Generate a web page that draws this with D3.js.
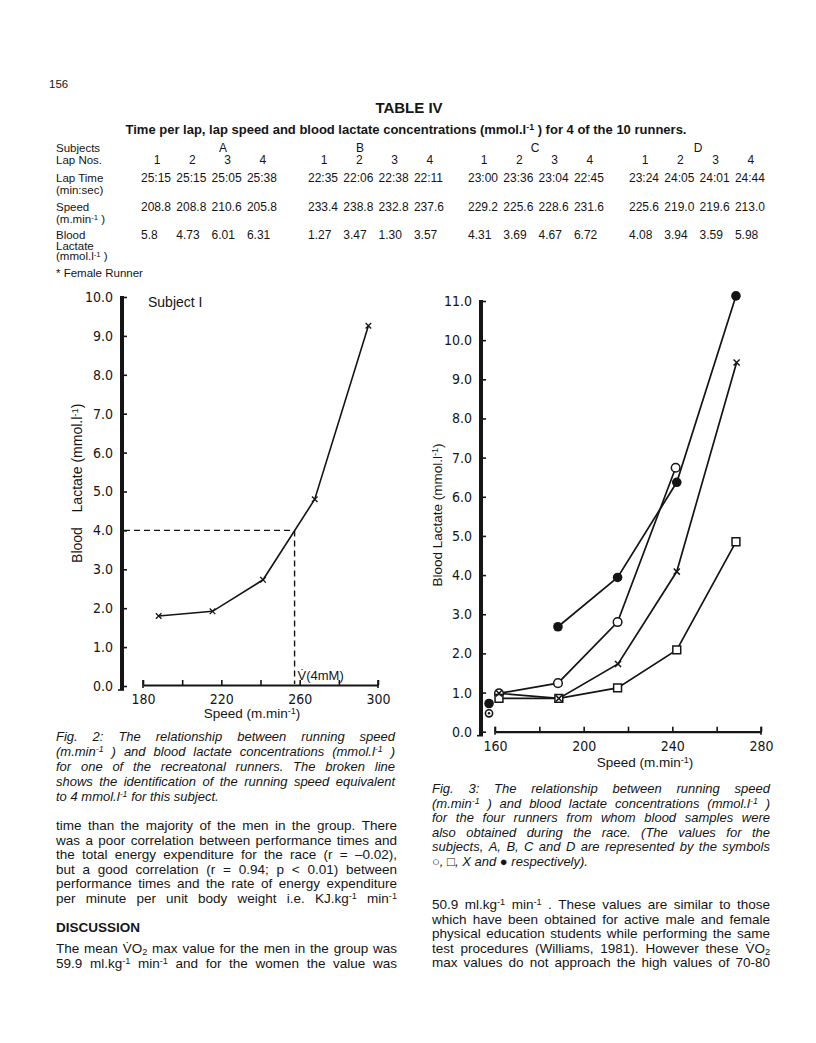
<!DOCTYPE html>
<html><head><meta charset="utf-8">
<script src="https://cdn.jsdelivr.net/npm/d3@7"></script>
<style>body{margin:0;background:#fff}svg{display:block}</style>
</head><body>
<svg id="page" width="816" height="1043"></svg>
<script>
// ---------------- DATA ----------------
const tableSubjects = ["A", "B", "C", "D"];
const lapNumbers = [1, 2, 3, 4];
const lapTimes = [
  ["25:15", "25:15", "25:05", "25:38"],
  ["22:35", "22:06", "22:38", "22:11"],
  ["23:00", "23:36", "23:04", "22:45"],
  ["23:24", "24:05", "24:01", "24:44"]
];
const lapSpeeds = [
  ["208.8", "208.8", "210.6", "205.8"],
  ["233.4", "238.8", "232.8", "237.6"],
  ["229.2", "225.6", "228.6", "231.6"],
  ["225.6", "219.0", "219.6", "213.0"]
];
const lapLactates = [
  ["5.8", "4.73", "6.01", "6.31"],
  ["1.27", "3.47", "1.30", "3.57"],
  ["4.31", "3.69", "4.67", "6.72"],
  ["4.08", "3.94", "3.59", "5.98"]
];

// Fig 2 (Subject I)
const fig2Speed = [188, 215.5, 241.3, 267.7, 295.1];
const fig2Lactate = [1.80, 1.92, 2.73, 4.80, 9.26];
const fig2ThresholdLactate = 4.0;
const fig2ThresholdSpeed = 257.4;
const fig2XTicks = [180, 200, 220, 240, 260, 280, 300];
const fig2XLabels = [180, 220, 260, 300];
const fig2YTicks = [0, 1, 2, 3, 4, 5, 6, 7, 8, 9, 10];

// Fig 3 (subjects A, B, C, D)
const fig3SpeedA = [161.8, 188.4, 215.3, 241.5];
const fig3LactateA = [0.98, 1.24, 2.80, 6.74];
const fig3SpeedB = [161.8, 188.8, 215.3, 242.0, 268.7];
const fig3LactateB = [0.85, 0.85, 1.12, 2.09, 4.85];
const fig3SpeedC = [161.8, 188.8, 215.5, 242.0, 269.0];
const fig3LactateC = [0.98, 0.85, 1.73, 4.09, 9.43];
const fig3SpeedD = [188.4, 215.3, 242.0, 268.7];
const fig3LactateD = [2.68, 3.94, 6.37, 11.13];
const fig3RestSpeed = [157.3, 157.3];
const fig3RestLactate = [0.72, 0.47];
const fig3RestSymbol = ["filled", "dotted"];
const fig3XTicks = [160, 180, 200, 220, 240, 260, 280];
const fig3XLabels = [160, 200, 240, 280];
const fig3YTicks = [0, 1, 2, 3, 4, 5, 6, 7, 8, 9, 10, 11];

// ---------------- SETUP ----------------
const INK = "#151515";
const SANS = "'Liberation Sans', Arial, Helvetica, sans-serif";
const NARROW = "'Liberation Sans Narrow', 'DejaVu Sans Condensed', 'Liberation Sans', sans-serif";
const svg = d3.select("#page");
svg.append("rect").attr("width", 816).attr("height", 1043).attr("fill", "#fff");

function richText(sel, str, fs) {
  const re = /(\^\{[^}]*\}|_\{[^}]*\})/;
  str.split(re).forEach(part => {
    if (!part) return;
    if (part.startsWith("^{")) {
      sel.append("tspan").attr("baseline-shift", "40%").attr("font-size", fs * 0.68).text(part.slice(2, -1));
    } else if (part.startsWith("_{")) {
      sel.append("tspan").attr("baseline-shift", "-25%").attr("font-size", fs * 0.68).text(part.slice(2, -1));
    } else {
      sel.append("tspan").text(part);
    }
  });
  return sel;
}
function label(g, str, x, y, o = {}) {
  const t = g.append("text").attr("x", x).attr("y", y)
    .attr("font-family", o.family || SANS).attr("font-size", o.fs || 12)
    .attr("font-weight", o.weight || "normal").attr("font-style", o.style || "normal")
    .attr("text-anchor", o.anchor || "start").attr("fill", INK);
  if (o.rotate) t.attr("transform", `rotate(${o.rotate},${x},${y})`);
  return richText(t, str, o.fs || 12);
}
function paragraph(g, lines, o) {
  lines.forEach((line, i) => {
    const words = line.split(" ");
    const y = o.y0 + i * o.lh;
    const nodes = words.map(w => label(g, w, 0, y, o));
    const widths = nodes.map(n => n.node().getComputedTextLength());
    const total = d3.sum(widths);
    const isLast = i === lines.length - 1 && !o.justifyLast;
    const gap = (isLast || words.length < 2) ? o.fs * 0.28 : (o.x1 - o.x0 - total) / (words.length - 1);
    let x = o.x0;
    nodes.forEach((n, k) => { n.attr("x", x); x += widths[k] + gap; });
  });
}

// ---------------- TABLE ----------------
const tg = svg.append("g");
label(tg, "156", 49, 88, {fs: 11.5});
label(tg, "TABLE IV", 409, 113, {fs: 15, weight: "bold", anchor: "middle"});
label(tg, "Time per lap, lap speed and blood lactate concentrations (mmol.l^{-1} ) for 4 of the 10 runners.", 406, 134, {fs: 13, weight: "bold", anchor: "middle"});

const rowLabels = [
  ["Subjects", 152], ["Lap Nos.", 164], ["Lap Time", 182], ["(min:sec)", 194],
  ["Speed", 211], ["(m.min^{-1} )", 223], ["Blood", 239], ["Lactate", 250],
  ["(mmol.l^{-1} )", 260], ["* Female Runner", 277]
];
rowLabels.forEach(([s, y]) => label(tg, s, 56, y, {fs: 11.5}));

const groupStart = [141, 308, 468, 629];
const pitch = 35.3;
const subjX = [223, 360, 535, 698];
tableSubjects.forEach((s, i) => label(tg, s, subjX[i], 152, {fs: 12, anchor: "middle"}));
tableSubjects.forEach((s, i) => {
  lapNumbers.forEach((n, j) => {
    const x = groupStart[i] + j * pitch;
    label(tg, String(n), x + 16, 164, {fs: 12, anchor: "middle"});
    label(tg, lapTimes[i][j], x, 182, {fs: 12});
    label(tg, lapSpeeds[i][j], x, 211, {fs: 12});
    label(tg, lapLactates[i][j], x, 239, {fs: 12});
  });
});

// ---------------- AXIS HELPERS ----------------
function drawYAxis(g, y, ticks, x) {
  const ax = d3.axisLeft(y).tickValues(ticks).tickSizeInner(-5).tickSizeOuter(0).tickPadding(9)
    .tickFormat(d => d.toFixed(1));
  const a = g.append("g").attr("transform", `translate(${x},0)`).call(ax);
  a.select(".domain").remove();
  a.selectAll(".tick line").attr("stroke", INK).attr("stroke-width", 1.6);
  a.selectAll(".tick text").attr("font-family", NARROW).attr("font-size", 14).attr("fill", INK);
  const [y0, y1] = y.range();
  g.append("line").attr("x1", x).attr("x2", x).attr("y1", y1 - 1).attr("y2", y0 + 4)
    .attr("stroke", INK).attr("stroke-width", 4);
  g.append("line").attr("x1", x - 4).attr("x2", x + 2).attr("y1", y0 + 4).attr("y2", y0 + 4)
    .attr("stroke", INK).attr("stroke-width", 1.6);
}
function drawXAxis(g, xs, ticks, labels, y) {
  const ax = d3.axisBottom(xs).tickValues(ticks).tickSizeInner(-5).tickSizeOuter(0).tickPadding(9)
    .tickFormat(d => labels.includes(d) ? String(d) : "");
  const a = g.append("g").attr("transform", `translate(0,${y})`).call(ax);
  a.select(".domain").attr("stroke", INK).attr("stroke-width", 2.2);
  a.selectAll(".tick line").attr("stroke", INK).attr("stroke-width", 1.6);
  a.selectAll(".tick text").attr("font-family", NARROW).attr("font-size", 14).attr("fill", INK);
  const [x0, x1] = xs.range();
  [x0, x1].forEach(xx => g.append("line").attr("x1", xx).attr("x2", xx).attr("y1", y - 5).attr("y2", y + 3)
    .attr("stroke", INK).attr("stroke-width", 1.6));
}

// ---------------- FIG 2 ----------------
const g2 = svg.append("g");
const x2 = d3.scaleLinear().domain([180, 300]).range([143, 378]);
const y2 = d3.scaleLinear().domain([0, 10]).range([686, 297]);
drawYAxis(g2, y2, fig2YTicks, 122);
drawXAxis(g2, x2, fig2XTicks, fig2XLabels, 685);

// threshold dashed lines
g2.append("line").attr("x1", 124).attr("x2", x2(fig2ThresholdSpeed))
  .attr("y1", y2(fig2ThresholdLactate)).attr("y2", y2(fig2ThresholdLactate))
  .attr("stroke", INK).attr("stroke-width", 1.4).attr("stroke-dasharray", "6,4");
g2.append("line").attr("x1", x2(fig2ThresholdSpeed)).attr("x2", x2(fig2ThresholdSpeed))
  .attr("y1", y2(fig2ThresholdLactate)).attr("y2", 684)
  .attr("stroke", INK).attr("stroke-width", 1.4).attr("stroke-dasharray", "6,4");

const f2pts = fig2Speed.map((s, i) => [s, fig2Lactate[i]]);
g2.append("path").datum(f2pts)
  .attr("d", d3.line().x(d => x2(d[0])).y(d => y2(d[1])))
  .attr("fill", "none").attr("stroke", INK).attr("stroke-width", 1.6);
g2.selectAll(".xm").data(f2pts).join("path")
  .attr("d", d3.symbol(d3.symbolX, 22))
  .attr("transform", d => `translate(${x2(d[0])},${y2(d[1])})`)
  .attr("fill", "none").attr("stroke", INK).attr("stroke-width", 1.3);

label(g2, "Subject I", 148, 307, {fs: 14});
label(g2, "V\u0307(4mM)", x2(fig2ThresholdSpeed) + 3, 680, {fs: 13});
label(g2, "Speed (m.min^{-1})", 252, 718, {fs: 13.5, anchor: "middle"});
label(g2, "Blood", 82, 545, {fs: 14, anchor: "middle", rotate: -90});
label(g2, "Lactate (mmol.l^{-1})", 82, 458, {fs: 14, anchor: "middle", rotate: -90});

// ---------------- FIG 3 ----------------
const g3 = svg.append("g");
const x3 = d3.scaleLinear().domain([160, 280]).range([495, 761]);
const y3 = d3.scaleLinear().domain([0, 11]).range([731.7, 301]);
drawYAxis(g3, y3, fig3YTicks, 481);
drawXAxis(g3, x3, fig3XTicks, fig3XLabels, 731.7);

const series = [
  {sp: fig3SpeedA, la: fig3LactateA, sym: "open"},
  {sp: fig3SpeedB, la: fig3LactateB, sym: "square"},
  {sp: fig3SpeedC, la: fig3LactateC, sym: "x"},
  {sp: fig3SpeedD, la: fig3LactateD, sym: "filled"}
];
const line3 = d3.line().x(d => x3(d[0])).y(d => y3(d[1]));
series.forEach(s => {
  const pts = s.sp.map((v, i) => [v, s.la[i]]);
  g3.append("path").datum(pts).attr("d", line3)
    .attr("fill", "none").attr("stroke", INK).attr("stroke-width", 1.7);
});
function marker(g, sym, px, py) {
  if (sym === "open") {
    g.append("circle").attr("cx", px).attr("cy", py).attr("r", 4.3).attr("fill", "#fff").attr("stroke", INK).attr("stroke-width", 1.5);
  } else if (sym === "square") {
    g.append("path").attr("d", d3.symbol(d3.symbolSquare, 62)).attr("transform", `translate(${px},${py})`)
      .attr("fill", "#fff").attr("stroke", INK).attr("stroke-width", 1.5);
  } else if (sym === "x") {
    g.append("path").attr("d", d3.symbol(d3.symbolX, 26)).attr("transform", `translate(${px},${py})`)
      .attr("fill", "none").attr("stroke", INK).attr("stroke-width", 1.5);
  } else if (sym === "filled") {
    g.append("circle").attr("cx", px).attr("cy", py).attr("r", 4.8).attr("fill", INK);
  } else if (sym === "dotted") {
    g.append("circle").attr("cx", px).attr("cy", py).attr("r", 3.6).attr("fill", "#fff").attr("stroke", INK).attr("stroke-width", 1.6);
    g.append("circle").attr("cx", px).attr("cy", py).attr("r", 1.2).attr("fill", INK);
  }
}
series.forEach(s => s.sp.forEach((v, i) => marker(g3, s.sym, x3(v), y3(s.la[i]))));
fig3RestSpeed.forEach((v, i) => marker(g3, fig3RestSymbol[i], x3(v), y3(fig3RestLactate[i])));

label(g3, "Speed  (m.min^{-1})", 645, 767, {fs: 13.5, anchor: "middle"});
label(g3, "Blood Lactate (mmol.l^{-1})", 442, 515, {fs: 13.5, anchor: "middle", rotate: -90});

// ---------------- TEXT ----------------
const txt = svg.append("g");
paragraph(txt, [
  "Fig. 2: The relationship between running speed",
  "(m.min^{-1} ) and blood lactate concentrations (mmol.l^{-1} )",
  "for one of the recreatonal runners. The broken line",
  "shows the identification of the running speed equivalent",
  "to 4 mmol.l^{-1} for this subject."
], {x0: 56, x1: 395, y0: 741, lh: 15, fs: 13, style: "italic"});

paragraph(txt, [
  "time than the majority of the men in the group. There",
  "was a poor correlation between performance times and",
  "the total energy expenditure for the race (r = \u20130.02),",
  "but a good correlation (r = 0.94; p < 0.01) between",
  "performance times and the rate of energy expenditure",
  "per minute per unit body weight i.e. KJ.kg^{-1} min^{-1}"
], {x0: 56, x1: 397, y0: 830, lh: 14.6, fs: 13.5, justifyLast: true});

label(txt, "DISCUSSION", 56, 932, {fs: 13.5, weight: "bold"});
paragraph(txt, [
  "The mean V\u0307O_{2} max value for the men in the group was",
  "59.9 ml.kg^{-1} min^{-1} and for the women the value was"
], {x0: 56, x1: 397, y0: 953, lh: 14.8, fs: 13.5, justifyLast: true});

paragraph(txt, [
  "Fig. 3: The relationship between running speed",
  "(m.min^{-1} ) and blood lactate concentrations (mmol.l^{-1} )",
  "for the four runners from whom blood samples were",
  "also obtained during the race. (The values for the",
  "subjects, A, B, C and D are represented by the symbols",
  "\u25CB, \u25A1, X and \u25CF respectively)."
], {x0: 432, x1: 770, y0: 793, lh: 14.6, fs: 13, style: "italic"});

paragraph(txt, [
  "50.9 ml.kg^{-1} min^{-1} . These values are similar to those",
  "which have been obtained for active male and female",
  "physical education students while performing the same",
  "test procedures (Williams, 1981). However these V\u0307O_{2}",
  "max values do not approach the high values of 70-80"
], {x0: 432, x1: 770, y0: 909, lh: 14.6, fs: 13.5, justifyLast: true});
</script>
</body></html>
